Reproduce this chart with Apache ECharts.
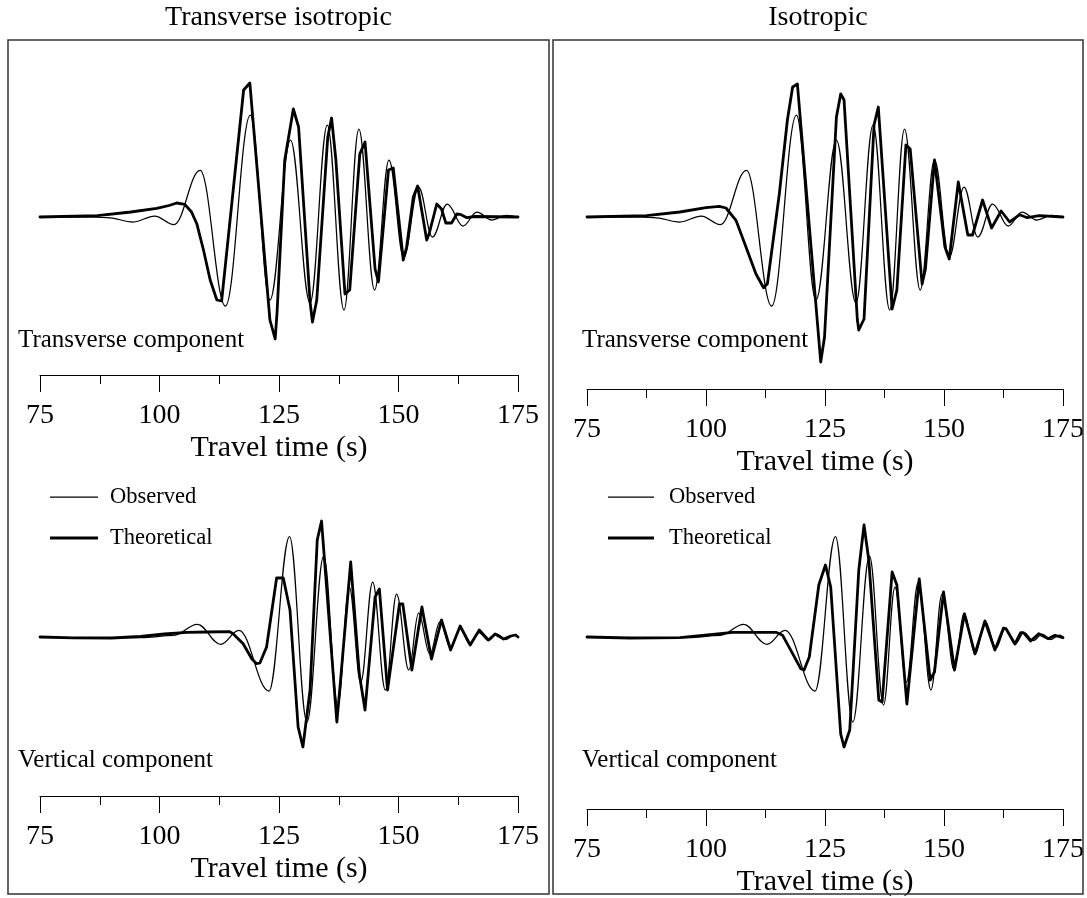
<!DOCTYPE html>
<html>
<head>
<meta charset="utf-8">
<script src="https://cdn.jsdelivr.net/npm/echarts@6/dist/echarts.min.js"></script>
<style>
  html, body { margin: 0; padding: 0; background: #fff; }
  #chart { width: 1087px; height: 898px; }
</style>
</head>
<body>
<div id="chart"></div>
<script>
// Travel time ticks (s)
const timeTicks = [75, 100, 125, 150, 175];

// Observed seismograms: [travel time (s), amplitude]
const obsTransverse = [
  [75,0],[84,0],[89,-0.5],[94.5,-5],[99,1],[103,-7.7],[108.5,46.7],[113.8,-89],[119,102],
  [123.1,-83],[127.4,77],[131.5,-86],[135.1,92],[138.6,-93],[141.7,88],[145,-73],[148,57],
  [151.1,-40],[154.2,30],[157.1,-20],[160.2,13],[163.5,-9],[166.4,5],[169.5,-3],[172.6,1.7],[175,0]
];
const obsVertical = [
  [75,0],[82,-0.5],[90,-1],[97,-0.5],[103,1.7],[107.9,12.7],[112.8,-7.3],[116.6,6.7],[122.9,-54],
  [127.2,100.5],[130.85,-85],[134.35,81],[137.3,-68],[139.7,50],[142.1,-45],[144.6,55],[147.25,-53],
  [149.6,43],[152.15,-33],[154.2,24],[156.55,-17],[158.7,15.5],[160.9,-11],[162.9,8.5],[164.95,-7],
  [166.8,4.5],[168.8,-3.5],[170.6,3],[172.4,-2.5],[174.3,2],[175,0]
];

// Theoretical seismograms, transverse isotropic model
const thTransverseTI = [
  [75,0],[87,1.3],[94,5],[99.4,8.7],[102,11.5],[103.6,14],[105.3,12.7],[106.7,5],[107.8,-6.7],
  [109.2,-33],[110.6,-63],[112,-83],[113,-84],[117.6,127],[118.9,134],[123.1,-103],[124.2,-122],
  [124.6,-95],[126.2,57],[128,108],[129.1,90],[131.5,-85],[132,-105],[132.9,-83],[135.2,80],[136,99],
  [136.9,57],[138.8,-77],[139.8,-73],[141.9,63],[143,75],[145.1,-52],[145.8,-65],[147.9,47],[148.9,49],
  [151,-43],[151.7,-30],[153.1,20],[154,31],[155.9,-23],[156.4,-17],[158,13],[159,8],[159.9,-6],
  [161.1,-6],[162.2,3],[162.9,2.7],[164.3,-0.7],[166,0.5],[175,0]
];
const thVerticalTI = [
  [75,0],[82,-0.8],[90,-1],[96,0.5],[101,3],[105.7,4.7],[110,5],[114.7,5.3],[115.4,3.3],[117.5,-6.7],
  [119.3,-21.7],[120.3,-26.7],[121,-26],[122.4,-10],[124.5,59],[125.9,59],[127.3,27],[129,-90],
  [130,-110],[131.5,-53],[133,97],[133.9,116],[137.1,-85],[137.7,-53],[140,75],[141.8,-37],[143,-73],
  [145.1,40],[146,48],[147.7,-53],[150.2,33],[150.9,33],[152.8,-33],[154.9,30],[156.9,-22],[159,17],
  [160.9,-13],[162.9,11],[165,-8],[166.9,7],[168.8,-3],[170.2,3],[172,-2],[173.5,1],[174.5,2],[175,0]
];

// Theoretical seismograms, isotropic model
const thTransverseISO = [
  [75,0],[87.5,1.3],[94.5,5],[100,9.3],[102.8,10.7],[104.2,9],[106.3,-3.3],[108.4,-30],[110.5,-57],
  [112.1,-70.7],[112.9,-66.7],[115.4,23],[117.1,97],[118.2,130],[119.2,133],[122.3,-43],[124.1,-145],
  [124.9,-120],[127.4,100],[128.3,123],[129,117],[131.8,-103],[132.1,-113],[133.2,-102],[135.3,92],
  [136.2,110],[139.1,-92],[140.1,-73],[142,72],[142.9,68],[145.4,-67],[146.1,-52],[148,57],[150.2,-30],
  [151.1,-42],[153,35],[155,-18],[156,-18],[158.1,17],[160,-11],[162,6],[163.8,-5],[165.9,2.3],
  [167.5,-0.7],[170,1.3],[175,0]
];
const thVerticalISO = [
  [75,0],[84,-1],[94.5,-0.7],[101.4,2.7],[105.6,4.7],[114.7,4.7],[116.1,1.7],[118.2,-16.7],[119.9,-31.7],
  [120.6,-33],[121.7,-20],[123.7,52],[125.1,72],[126.2,50],[128.3,-97],[129,-110],[130.2,-93],[132.1,67],
  [133.2,112],[134.2,77],[136.3,-63],[137,-65],[139.1,65],[140.1,52],[142.2,-67],[144.8,58],[147.1,-43],
  [148,-35],[149.9,45],[152.2,-33],[154.3,23],[156.5,-17],[158.6,16],[160.7,-13],[162.5,9],[163,8.5],
  [164.9,-7],[166.1,4.3],[166.7,4.3],[168.2,-4],[169.9,3.3],[171.9,-1.7],[173.3,1.7],[175,-0.7]
];

const SERIF = '"Liberation Serif", "Times New Roman", serif';

// Panel layout: grid placement, amplitude range and axis-name gap
const panels = [
  { left: 40,  top: 77,  height: 298, yMin: -158, yMax: 140, gap: 58 },  // TI, transverse
  { left: 40,  top: 497, height: 299, yMin: -159, yMax: 140, gap: 58 },  // TI, vertical
  { left: 587, top: 77,  height: 312, yMin: -172, yMax: 140, gap: 58 },  // ISO, transverse
  { left: 587, top: 497, height: 312, yMin: -172, yMax: 140, gap: 58 }   // ISO, vertical
];

const grids = panels.map(p => ({ left: p.left, top: p.top, width: 478, height: p.height, containLabel: false }));

const xAxes = panels.map((p, i) => ({
  gridIndex: i,
  type: 'value',
  min: timeTicks[0],
  max: timeTicks[timeTicks.length - 1],
  interval: timeTicks[1] - timeTicks[0],
  name: 'Travel time (s)',
  nameLocation: 'middle',
  nameGap: p.gap,
  nameTextStyle: { fontFamily: SERIF, fontSize: 30, color: '#000' },
  axisLine: { show: true, onZero: false, lineStyle: { color: '#000', width: 1 } },
  axisTick: { show: true, inside: false, length: 17, lineStyle: { color: '#000', width: 1 } },
  minorTick: { show: true, splitNumber: 2, length: 9, lineStyle: { color: '#000', width: 1 } },
  axisLabel: { fontFamily: SERIF, fontSize: 28, color: '#000', margin: 27 },
  splitLine: { show: false },
  minorSplitLine: { show: false }
}));

const yAxes = panels.map((p, i) => ({
  gridIndex: i, type: 'value', min: p.yMin, max: p.yMax, show: false,
  axisLine: { show: false }, splitLine: { show: false }
}));

function trace(name, data, idx, thick) {
  return {
    type: 'line', name: name, data: data,
    xAxisIndex: idx, yAxisIndex: idx,
    symbol: 'none', showSymbol: false,
    smooth: thick ? false : 0.38,
    smoothMonotone: thick ? undefined : 'x',
    lineStyle: { color: '#000', width: thick ? 2.8 : 1.25, join: 'round', cap: 'round' },
    z: thick ? 3 : 2,
    silent: true
  };
}

const series = [
  trace('Observed', obsTransverse, 0, false),
  trace('Theoretical', thTransverseTI, 0, true),
  trace('Observed', obsVertical, 1, false),
  trace('Theoretical', thVerticalTI, 1, true),
  trace('Observed', obsTransverse, 2, false),
  trace('Theoretical', thTransverseISO, 2, true),
  trace('Observed', obsVertical, 3, false),
  trace('Theoretical', thVerticalISO, 3, true)
];

function label(text, x, y, size, align) {
  return {
    type: 'text', x: x, y: y, silent: true,
    style: { text: text, fill: '#000', font: size + 'px ' + SERIF, textAlign: align || 'left', textVerticalAlign: 'middle' }
  };
}
function legendLine(x1, x2, y, w) {
  return { type: 'line', silent: true, shape: { x1: x1, y1: y, x2: x2, y2: y }, style: { stroke: '#000', lineWidth: w } };
}
function box(x, y, w, h) {
  return { type: 'rect', silent: true, z: 10, shape: { x: x, y: y, width: w, height: h },
           style: { fill: 'none', stroke: '#333', lineWidth: 1.5 } };
}

const graphic = [
  box(8, 40, 541, 854),
  box(553, 40, 530, 854),
  label('Transverse isotropic', 278.5, 18, 28, 'center'),
  label('Isotropic', 818, 18, 28, 'center'),
  label('Transverse component', 18, 340, 25),
  label('Vertical component', 18, 760, 25),
  label('Transverse component', 582, 340, 25),
  label('Vertical component', 582, 760, 25),
  legendLine(50, 98, 497, 1.25), label('Observed', 110, 497, 22.5),
  legendLine(50, 98, 538, 2.8), label('Theoretical', 110, 538, 22.5),
  legendLine(608, 654, 497, 1.25), label('Observed', 669, 497, 22.5),
  legendLine(608, 654, 538, 2.8), label('Theoretical', 669, 538, 22.5)
];

const chart = echarts.init(document.getElementById('chart'), null, { renderer: 'canvas' });
chart.setOption({
  backgroundColor: '#fff',
  animation: false,
  grid: grids,
  xAxis: xAxes,
  yAxis: yAxes,
  series: series,
  graphic: graphic
});
</script>
</body>
</html>
